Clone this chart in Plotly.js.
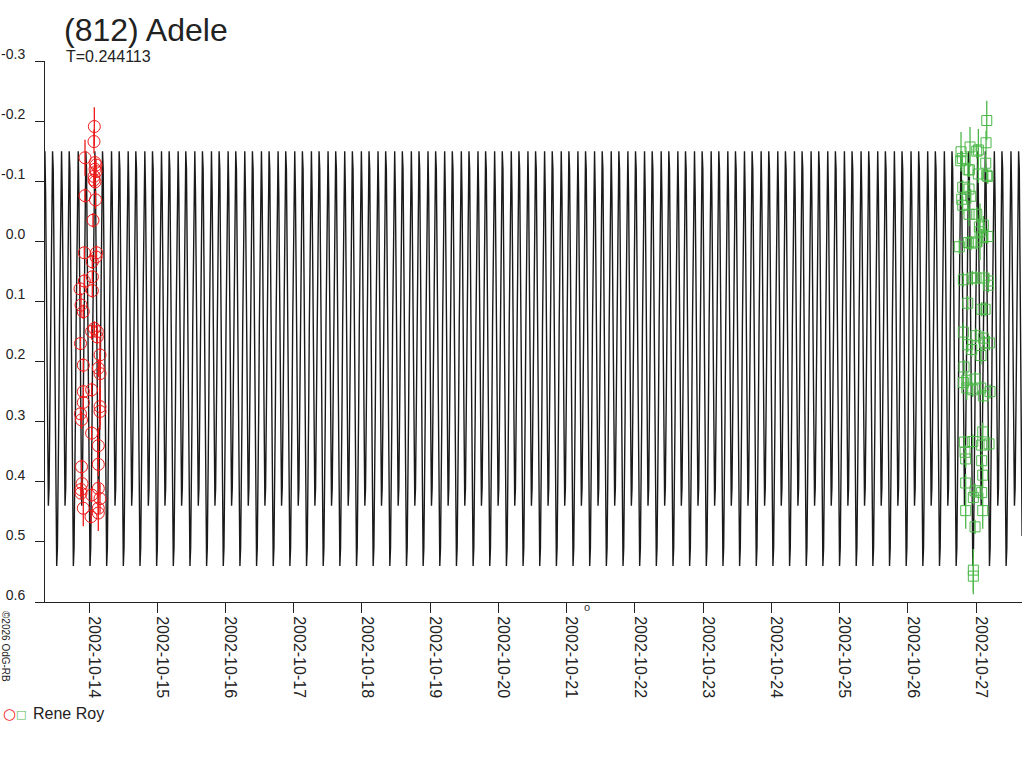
<!DOCTYPE html>
<html>
<head>
<meta charset="utf-8">
<title>(812) Adele</title>
<script src="https://cdn.plot.ly/plotly-3.0.1.min.js"></script>
<style>
  html, body { margin: 0; padding: 0; background: #fff; }
  #chart { width: 1024px; height: 768px; }
</style>
</head>
<body>
<div id="chart"></div>
<script>
// period (days) and one period of the model curve
var period = 0.244113;
var curveStart = '2002-10-14 00:21';   // deep minimum, phase 0
var curveProfile = [0.54, 0.51, 0.42, 0.29, 0.14, 0.00, -0.13, -0.15, -0.08, 0.05, 0.22, 0.37,
                    0.44, 0.41, 0.30, 0.15, 0.00, -0.11, -0.15, -0.12, 0.02, 0.20, 0.37, 0.49];

var xRange = ['2002-10-13 08:31', '2002-10-27 16:10'];
var dayTicks = ['2002-10-14', '2002-10-15', '2002-10-16', '2002-10-17', '2002-10-18', '2002-10-19', '2002-10-20',
                '2002-10-21', '2002-10-22', '2002-10-23', '2002-10-24', '2002-10-25', '2002-10-26', '2002-10-27'];
var yTickVals = [-0.3, -0.2, -0.1, 0.0, 0.1, 0.2, 0.3, 0.4, 0.5, 0.6];
var yTickText = ['-0.3', '-0.2', '-0.1', '0.0', '0.1', '0.2', '0.3', '0.4', '0.5', '0.6'];

// red circles, first night
var redTime = ['2002-10-14 01:52','2002-10-14 01:45','2002-10-13 22:35','2002-10-14 02:07','2002-10-14 02:28',
  '2002-10-14 02:07','2002-10-14 02:28','2002-10-14 01:45','2002-10-14 01:45','2002-10-14 02:07',
  '2002-10-13 22:35','2002-10-14 02:17','2002-10-14 01:24','2002-10-13 22:21','2002-10-14 02:38',
  '2002-10-14 02:28','2002-10-14 01:10','2002-10-14 01:10','2002-10-13 22:21','2002-10-13 20:50',
  '2002-10-14 01:10','2002-10-13 21:11','2002-10-13 21:59','2002-10-14 01:52','2002-10-14 02:54',
  '2002-10-14 00:55','2002-10-14 02:54','2002-10-13 21:00','2002-10-14 03:52','2002-10-13 21:59',
  '2002-10-14 03:16','2002-10-14 03:52','2002-10-14 00:55','2002-10-13 21:59','2002-10-13 21:59',
  '2002-10-14 03:52','2002-10-14 03:52','2002-10-13 21:00','2002-10-13 21:21','2002-10-14 00:55',
  '2002-10-14 03:16','2002-10-14 03:16','2002-10-13 21:21','2002-10-13 21:32','2002-10-13 21:11',
  '2002-10-13 21:11','2002-10-14 00:55','2002-10-14 03:16','2002-10-14 03:52','2002-10-13 21:59',
  '2002-10-14 03:16','2002-10-14 03:16','2002-10-14 00:42'];
var redMag = [-0.191,-0.166,-0.139,-0.131,-0.127,-0.120,-0.116,-0.108,-0.102,-0.099,
  -0.076,-0.069,-0.035,0.019,0.019,0.026,0.034,0.059,0.066,0.079,
  0.082,0.106,0.117,0.145,0.150,0.150,0.159,0.170,0.189,0.206,
  0.211,0.220,0.247,0.250,0.268,0.275,0.283,0.287,0.297,0.319,
  0.340,0.371,0.375,0.403,0.413,0.419,0.422,0.411,0.428,0.444,
  0.444,0.452,0.458];
var redErr = [0.032,0.02,0.03,0.012,0.01,0.012,0.01,0.015,0.01,0.012,
  0.012,0.015,0.012,0.01,0.012,0.01,0.012,0.01,0.012,0.01,
  0.012,0.02,0.012,0.012,0.01,0.012,0.012,0.01,0.03,0.012,
  0.015,0.035,0.012,0.01,0.012,0.03,0.03,0.01,0.015,0.012,
  0.03,0.02,0.012,0.02,0.012,0.01,0.012,0.015,0.025,0.03,
  0.012,0.03,0.012];

// green squares, last night
var greenTime = ['2002-10-27 03:46','2002-10-27 03:31','2002-10-26 21:53','2002-10-27 00:49','2002-10-27 00:15',
  '2002-10-26 18:43','2002-10-26 19:11','2002-10-26 18:37','2002-10-27 03:25','2002-10-26 21:39',
  '2002-10-26 21:11','2002-10-27 00:49','2002-10-27 03:46','2002-10-27 04:07','2002-10-26 19:19',
  '2002-10-26 21:32','2002-10-26 22:08','2002-10-26 18:58','2002-10-26 19:19','2002-10-26 21:32',
  '2002-10-27 00:15','2002-10-27 02:34','2002-10-27 01:10','2002-10-27 01:24','2002-10-27 04:07',
  '2002-10-27 02:00','2002-10-27 00:15','2002-10-26 21:17','2002-10-26 22:15','2002-10-26 18:07',
  '2002-10-26 19:32','2002-10-26 22:42','2002-10-27 00:00','2002-10-27 02:49','2002-10-27 04:20',
  '2002-10-27 04:20','2002-10-26 21:05','2002-10-27 02:00','2002-10-27 03:10','2002-10-26 19:32',
  '2002-10-27 00:00','2002-10-27 02:34','2002-10-26 21:05','2002-10-27 02:55','2002-10-27 04:41',
  '2002-10-26 22:29','2002-10-27 01:45','2002-10-26 19:47','2002-10-26 20:44','2002-10-26 19:32',
  '2002-10-26 23:39','2002-10-26 20:44','2002-10-26 22:51','2002-10-27 01:39','2002-10-27 04:55',
  '2002-10-27 02:34','2002-10-27 02:21','2002-10-26 19:53','2002-10-26 22:51','2002-10-27 02:00',
  '2002-10-27 04:34','2002-10-26 20:08','2002-10-26 20:22','2002-10-27 02:00','2002-10-27 02:21',
  '2002-10-26 20:22','2002-10-26 23:39','2002-10-27 02:00','2002-10-26 23:03','2002-10-26 20:22',
  '2002-10-27 02:21','2002-10-26 23:39','2002-10-26 23:03','2002-10-26 23:03'];
var greenMag = [-0.201,-0.164,-0.157,-0.152,-0.150,-0.149,-0.138,-0.134,-0.130,-0.119,
  -0.119,-0.112,-0.110,-0.108,-0.090,-0.087,-0.075,-0.070,-0.060,-0.045,
  -0.045,-0.027,-0.024,-0.016,-0.008,-0.006,0.001,0.002,0.003,0.009,
  0.064,0.061,0.061,0.061,0.066,0.073,0.103,0.113,0.113,0.151,
  0.157,0.161,0.172,0.169,0.169,0.180,0.190,0.209,0.231,0.235,
  0.229,0.244,0.247,0.244,0.250,0.257,0.317,0.334,0.333,0.339,
  0.337,0.351,0.362,0.365,0.389,0.402,0.415,0.418,0.426,0.448,
  0.448,0.475,0.547,0.557];
var greenErr = [0.033,0.02,0.033,0.035,0.012,0.033,0.012,0.012,0.015,0.012,
  0.012,0.015,0.012,0.012,0.012,0.015,0.012,0.012,0.015,0.02,
  0.012,0.015,0.02,0.047,0.012,0.015,0.012,0.012,0.012,0.012,
  0.012,0.012,0.012,0.012,0.012,0.012,0.012,0.012,0.012,0.015,
  0.012,0.012,0.012,0.012,0.012,0.012,0.015,0.012,0.015,0.012,
  0.012,0.02,0.012,0.012,0.012,0.012,0.015,0.012,0.012,0.012,
  0.012,0.012,0.015,0.012,0.02,0.015,0.012,0.012,0.012,0.03,
  0.03,0.012,0.035,0.03];

// repeat the one-period profile over the whole time range
function toMs(s) {
  var p = s.split(/[- :]/);
  return Date.UTC(+p[0], +p[1] - 1, +p[2], +(p[3] || 0), +(p[4] || 0));
}
var step = period * 86400000 / curveProfile.length;
var t0 = toMs(curveStart), tA = toMs(xRange[0]), tB = toMs(xRange[1]);
var curveX = [], curveY = [];
for (var k = Math.floor((tA - t0) / step) - 1; t0 + k * step <= tB + step; k++) {
  var n = curveProfile.length;
  curveX.push(t0 + k * step);
  curveY.push(curveProfile[((k % n) + n) % n]);
}

var FONT = 'Liberation Sans, Arial, sans-serif';

// helper for annotations placed in pixel coordinates of the page
function px(x) { return (x - 45) / 977; }
function py(y) { return (602 - y) / 541; }

var data = [
  { type: 'scatter', mode: 'lines', x: curveX, y: curveY,
    line: { color: '#1a1a1a', width: 1.4 }, hoverinfo: 'skip', showlegend: false },
  { type: 'scatter', mode: 'markers', x: redTime, y: redMag, name: 'Rene Roy',
    error_y: { type: 'data', array: redErr, color: '#f01818', thickness: 1.3, width: 0 },
    marker: { symbol: 'circle-open', size: 12, color: '#f01818', line: { width: 1 } },
    showlegend: false },
  { type: 'scatter', mode: 'markers', x: greenTime, y: greenMag, name: 'Rene Roy',
    error_y: { type: 'data', array: greenErr, color: '#4cb848', thickness: 1.3, width: 0 },
    marker: { symbol: 'square-open', size: 10, color: '#4cb848', line: { width: 1 } },
    showlegend: false }
];

var layout = {
  width: 1024, height: 768,
  margin: { l: 45, r: 2, t: 61, b: 166 },
  paper_bgcolor: '#fff', plot_bgcolor: '#fff',
  font: { family: FONT, color: '#222' },
  showlegend: false,
  title: { text: '(812) Adele', x: 64 / 1024, xanchor: 'left', xref: 'container',
           y: 1 - 30 / 768, yanchor: 'middle', yref: 'container',
           font: { family: FONT, size: 32, color: '#222' } },
  xaxis: {
    type: 'date', range: xRange,
    tickvals: dayTicks, ticktext: dayTicks, tickangle: 90,
    ticks: 'outside', ticklen: 10, tickcolor: '#222', tickwidth: 1,
    ticklabelshift: 5, ticklabelstandoff: 0,
    tickfont: { family: FONT, size: 16, color: '#222' },
    showline: true, linecolor: '#222', linewidth: 1,
    showgrid: false, zeroline: false
  },
  yaxis: {
    range: [0.6, -0.3],
    tickvals: yTickVals, ticktext: yTickText,
    ticks: 'outside', ticklen: 9, tickcolor: '#222', tickwidth: 1,
    ticklabelstandoff: 7, ticklabelshift: 7,
    tickfont: { family: FONT, size: 14, color: '#222' },
    showline: true, linecolor: '#222', linewidth: 1,
    showgrid: false, zeroline: false
  },
  annotations: [
    { text: 'T=0.244113', xref: 'paper', yref: 'paper', x: px(64), y: py(57),
      xanchor: 'left', yanchor: 'middle', showarrow: false, font: { family: FONT, size: 16, color: '#222' } },
    { text: '○', xref: 'paper', yref: 'paper', x: px(9.5), y: py(714),
      xanchor: 'center', yanchor: 'middle', showarrow: false, font: { family: 'DejaVu Sans', size: 15, color: '#f01818' } },
    { text: '□', xref: 'paper', yref: 'paper', x: px(21), y: py(714),
      xanchor: 'center', yanchor: 'middle', showarrow: false, font: { family: 'DejaVu Sans', size: 11, color: '#4cb848' } },
    { text: 'Rene Roy', xref: 'paper', yref: 'paper', x: px(31), y: py(713),
      xanchor: 'left', yanchor: 'middle', showarrow: false, font: { family: FONT, size: 16, color: '#222' } },
    { text: '©2026 OdG-RB', textangle: 90, xref: 'paper', yref: 'paper', x: px(6), y: py(646),
      xanchor: 'center', yanchor: 'middle', showarrow: false, font: { family: FONT, size: 10, color: '#222' } },
    { text: 'o', xref: 'paper', yref: 'paper', x: px(587), y: py(607),
      xanchor: 'center', yanchor: 'middle', showarrow: false, font: { family: FONT, size: 11, color: '#333' } }
  ]
};

Plotly.newPlot('chart', data, layout, { displayModeBar: false, staticPlot: true });
</script>
</body>
</html>
